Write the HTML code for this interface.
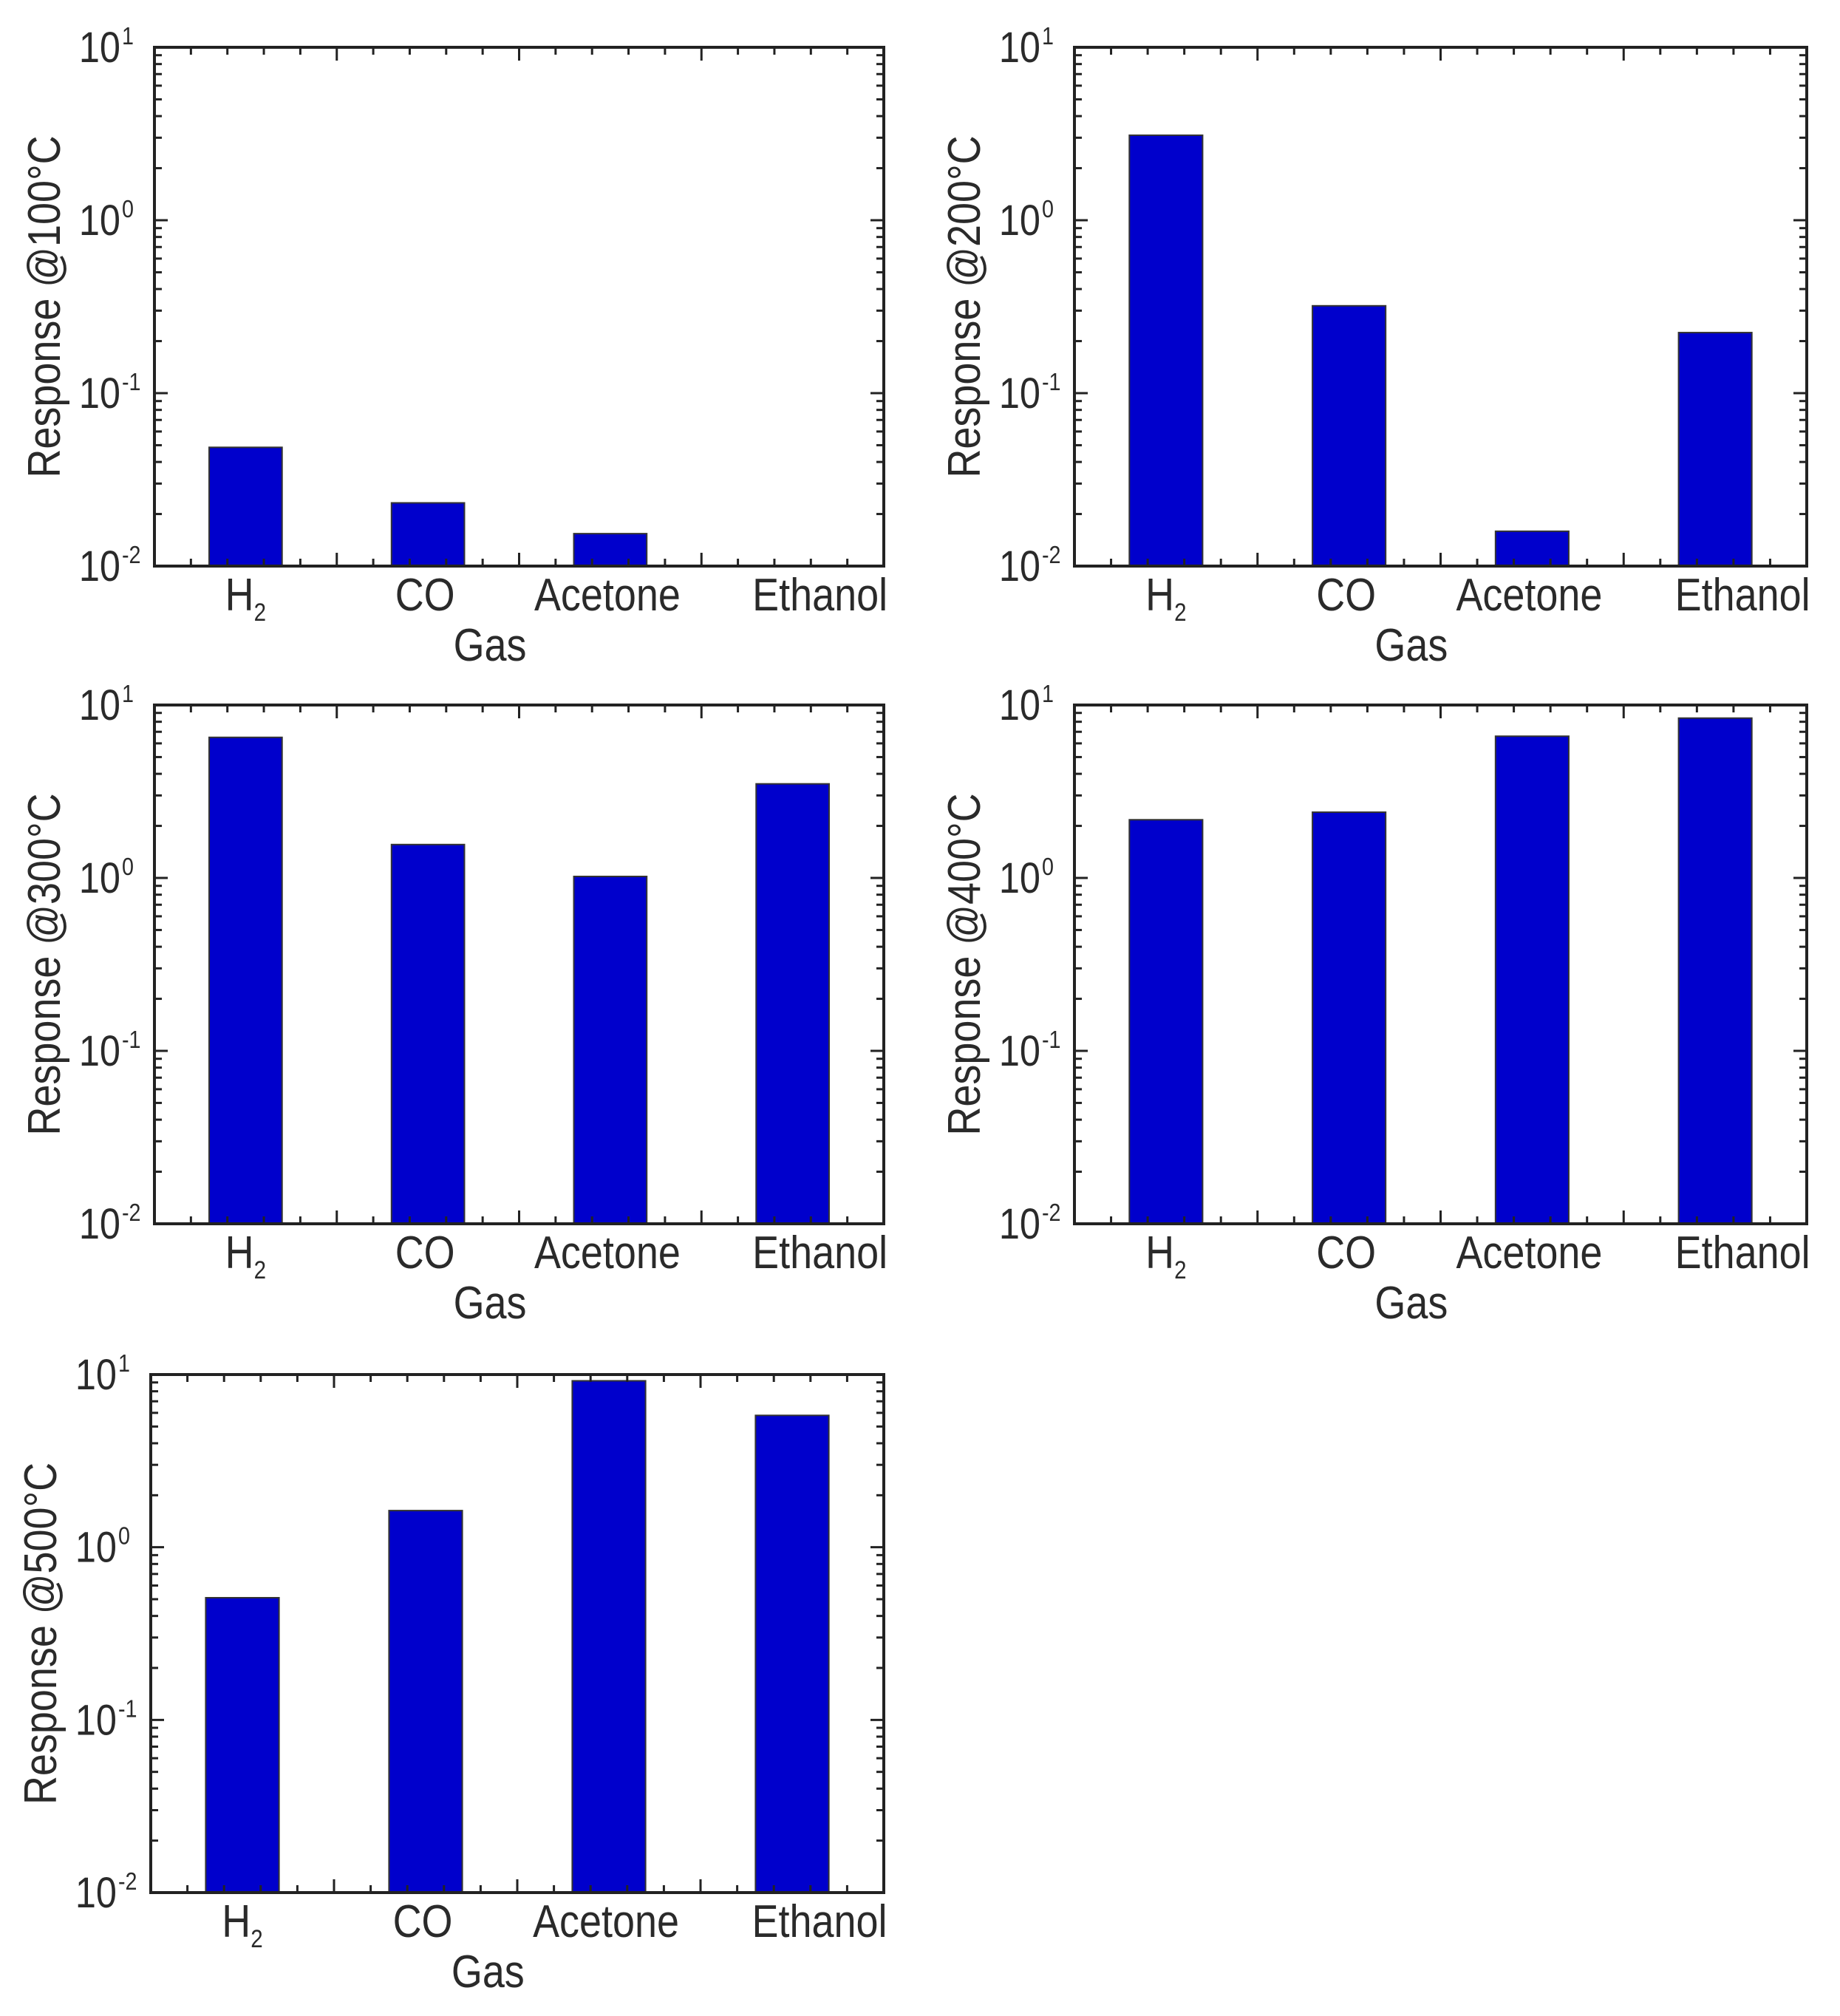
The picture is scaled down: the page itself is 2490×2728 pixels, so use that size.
<!DOCTYPE html>
<html><head><meta charset="utf-8">
<style>
html,body{margin:0;padding:0;background:#fff;}
svg{display:block;}
text{font-family:"Liberation Sans",Arial,sans-serif;fill:#2a2a2a;}
</style></head>
<body>
<svg id="fig" width="2490" height="2728" viewBox="0 0 2490 2728" xmlns="http://www.w3.org/2000/svg"></svg>
<script>
const categories = ["H2","CO","Acetone","Ethanol"];
const panelTitles = ["Response @100°C","Response @200°C","Response @300°C","Response @400°C","Response @500°C"];
const values100 = [0.0486, 0.0232, 0.0154, 0.0];
const values200 = [3.1, 0.32, 0.0159, 0.224];
const values300 = [6.5, 1.56, 1.02, 3.5];
const values400 = [2.17, 2.4, 6.6, 8.4];
const values500 = [0.51, 1.63, 9.2, 5.8];
const yTickExps = [-2, -1, 0, 1];

const allValues = [values100, values200, values300, values400, values500];
const frames = [
  {l:209,r:1196,t:64,b:766},
  {l:1454,r:2445,t:64,b:766},
  {l:209,r:1196,t:954,b:1656},
  {l:1454,r:2445,t:954,b:1656},
  {l:204,r:1196,t:1860,b:2561}
];
const labelShift = [0, -4, -4, 37];
const NS="http://www.w3.org/2000/svg";
const svg=document.getElementById('fig');
function mk(tag,attrs,parent){const e=document.createElementNS(NS,tag);for(const k in attrs)e.setAttribute(k,attrs[k]);(parent||svg).appendChild(e);return e;}
const SX=0.87;

frames.forEach((f,pi)=>{
  const g=mk('g',{});
  
  
  const W=f.r-f.l, H=f.b-f.t;
  const yMin=-2,yMax=1;
  const yS=v=>{const lv=Math.log10(Math.max(v,1e-2));return f.b-(lv-yMin)/(yMax-yMin)*H;};
  const xS=i=>f.l+(i+0.5)/categories.length*W;
  const bw=W/categories.length*0.4;
  allValues[pi].forEach((v,i)=>{
    if(v<=0.01) return;
    const y=yS(v);
    const b=mk('rect',{x:xS(i)-bw/2,y:y,width:bw,height:f.b-y,fill:'#0000cc',stroke:'#333','stroke-width':2},g);
    
    
  });
  for(let e=yMin;e<yMax;e++){
    for(let m=1;m<10;m++){
      const y=yS(m*Math.pow(10,e));
      const len=m===1?18:10;
      mk('line',{x1:f.l,x2:f.l+len,y1:y,y2:y,stroke:'#222','stroke-width':3},g);
      mk('line',{x1:f.r,x2:f.r-len,y1:y,y2:y,stroke:'#222','stroke-width':3},g);
    }
  }
  yTickExps.forEach(e=>{
    const y=yS(Math.pow(10,e));
    const t=mk('text',{x:0,y:0,'font-size':58,'text-anchor':'end',transform:`translate(${f.l-46},${y+20}) scale(${SX},1)`},g);
    t.textContent='10';
    
    
    const s=mk('text',{x:0,y:0,'font-size':33,'text-anchor':'start',transform:`translate(${f.l-44},${y-4}) scale(${SX},1)`},g);
    s.textContent=String(e);
  });
  for(let k=1;k<20;k++){
    const x=f.l+k/20*W;
    const len=(k%5===0)?18:10;
    mk('line',{x1:x,x2:x,y1:f.b,y2:f.b-len,stroke:'#222','stroke-width':3},g);
    mk('line',{x1:x,x2:x,y1:f.t,y2:f.t+len,stroke:'#222','stroke-width':3},g);
  }
  const fr=mk('rect',{x:f.l,y:f.t,width:W,height:H,fill:'none',stroke:'#222','stroke-width':4},g);
  
  
  categories.forEach((c,i)=>{
    const t=mk('text',{x:0,y:0,'font-size':62,'text-anchor':'middle',transform:`translate(${xS(i)+labelShift[i]},${f.b+60}) scale(${SX},1)`},g);
    
    
    if(c==='H2'){t.textContent='H';const s=mk('tspan',{'font-size':34,dy:14},t);s.textContent='2';}
    else t.textContent=c;
  });
  const xt=mk('text',{x:0,y:0,'font-size':62,'text-anchor':'middle',transform:`translate(${f.l+W*0.46},${f.b+128}) scale(${SX},1)`},g);
  xt.textContent='Gas';
  
  
  const cy=f.t+H*0.5;
  const yt=mk('text',{x:0,y:0,'font-size':62,'text-anchor':'middle',transform:`translate(${f.l-128},${cy}) rotate(-90) scale(${SX},1)`},g);
  yt.textContent=panelTitles[pi];
  
  
});
</script>
</body></html>
